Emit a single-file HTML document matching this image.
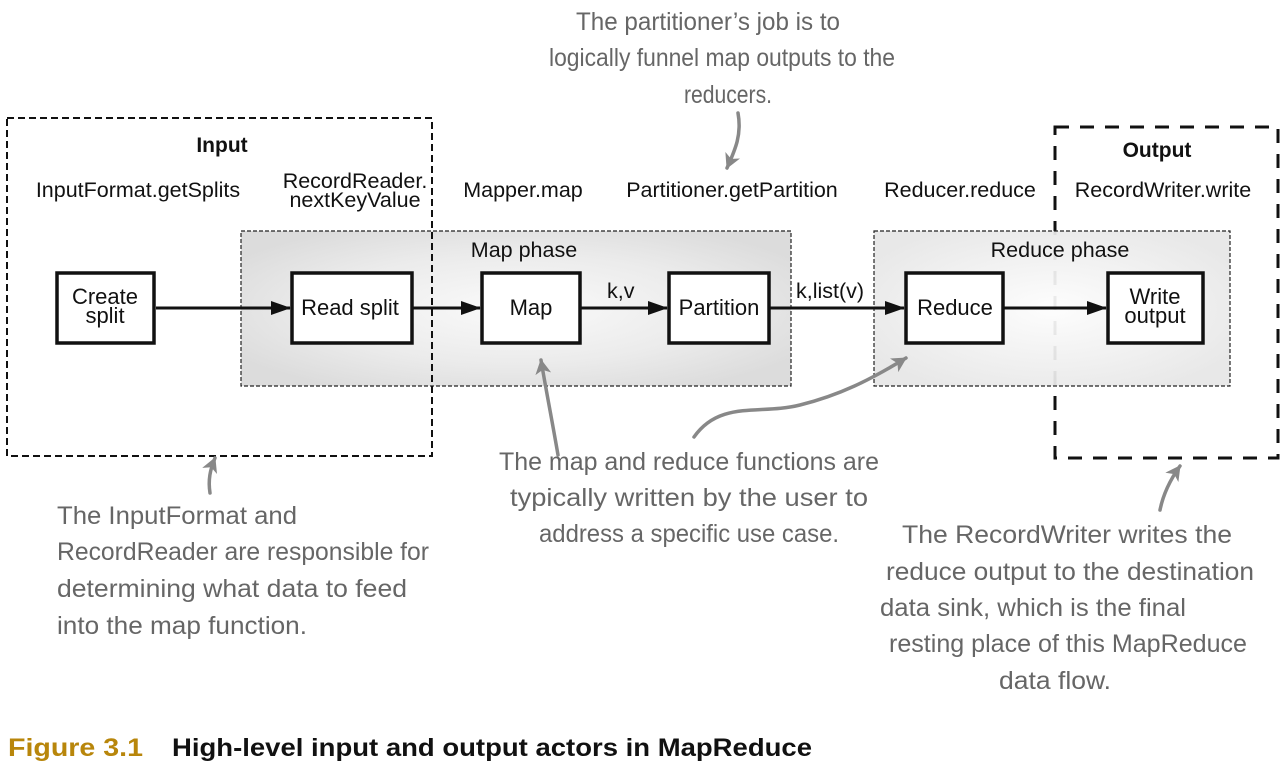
<!DOCTYPE html>
<html><head><meta charset="utf-8"><style>
html,body{margin:0;padding:0;background:#fff;width:1284px;height:784px;overflow:hidden}
svg{display:block}
.s{font-family:"Liberation Sans",Arial,sans-serif;font-size:21.5px;fill:#111}
.t{font-family:"Liberation Sans",Arial,sans-serif;font-size:22px;fill:#111}
.b{font-family:"Liberation Sans",Arial,sans-serif;font-size:21px;font-weight:bold;fill:#111}
.h{font-family:"Liberation Sans Narrow","Liberation Sans",sans-serif;font-size:25px;fill:#666}
.bx{fill:#fff;stroke:#111;stroke-width:3.5}
</style></head><body>
<svg width="1284" height="784" viewBox="0 0 1284 784" xmlns="http://www.w3.org/2000/svg">
<defs>
<radialGradient id="g1" cx="0.5" cy="0.5" r="0.6"><stop offset="0" stop-color="#fafafa"/><stop offset="0.6" stop-color="#ebebeb"/><stop offset="1" stop-color="#dcdcdc"/></radialGradient>
<radialGradient id="g2" cx="0.5" cy="0.5" r="0.6"><stop offset="0" stop-color="#fdfdfd"/><stop offset="1" stop-color="#e6e6e6"/></radialGradient>
<marker id="ab" markerWidth="20" markerHeight="14" refX="19" refY="7" orient="auto" markerUnits="userSpaceOnUse"><path d="M0,0 L20,7 L0,14 z" fill="#111"/></marker>
<marker id="ag" markerWidth="16" markerHeight="16" refX="14" refY="8" orient="auto" markerUnits="userSpaceOnUse"><path d="M0,0 L15,8 L0,16 L4,8 z" fill="#888"/></marker>
</defs>
<rect x="1055" y="127" width="223" height="331" fill="none" stroke="#111" stroke-width="3" stroke-dasharray="14,11"/>
<rect x="241" y="231" width="550" height="155" fill="url(#g1)" stroke="#222" stroke-width="1.2" stroke-dasharray="4,2"/>
<rect x="874" y="231" width="356" height="155" fill="url(#g2)" fill-opacity="0.93" stroke="#222" stroke-width="1.2" stroke-dasharray="4,2"/>
<rect x="7" y="118" width="425" height="338" fill="none" stroke="#111" stroke-width="2" stroke-dasharray="7,4"/>
<text class="b" x="222" y="152" text-anchor="middle">Input</text>
<text class="b" x="1157" y="157" text-anchor="middle">Output</text>
<text class="s" x="138" y="197" text-anchor="middle">InputFormat.getSplits</text>
<text class="s" x="355" y="188" text-anchor="middle">RecordReader.</text>
<text class="s" x="355" y="207" text-anchor="middle">nextKeyValue</text>
<text class="s" x="523" y="197" text-anchor="middle">Mapper.map</text>
<text class="s" x="732" y="197" text-anchor="middle">Partitioner.getPartition</text>
<text class="s" x="960" y="197" text-anchor="middle">Reducer.reduce</text>
<text class="s" x="1163" y="197" text-anchor="middle">RecordWriter.write</text>
<text class="s" x="524" y="257" text-anchor="middle">Map phase</text>
<text class="s" x="1060" y="257" text-anchor="middle">Reduce phase</text>
<g stroke="#111" stroke-width="3" fill="none">
<line x1="156" y1="308" x2="290" y2="308" marker-end="url(#ab)"/>
<line x1="412" y1="308" x2="480" y2="308" marker-end="url(#ab)"/>
<line x1="580" y1="308" x2="667" y2="308" marker-end="url(#ab)"/>
<line x1="769" y1="308" x2="904" y2="308" marker-end="url(#ab)"/>
<line x1="1003" y1="308" x2="1106" y2="308" marker-end="url(#ab)"/>
</g>
<rect class="bx" x="57" y="273" width="97" height="70"/>
<rect class="bx" x="292" y="273" width="120" height="70"/>
<rect class="bx" x="482" y="273" width="98" height="70"/>
<rect class="bx" x="669" y="273" width="100" height="70"/>
<rect class="bx" x="906" y="273" width="97" height="70"/>
<rect class="bx" x="1108" y="273" width="95" height="70"/>
<text class="t" x="105" y="304" text-anchor="middle">Create</text>
<text class="t" x="105" y="323" text-anchor="middle">split</text>
<text class="t" x="350" y="315" text-anchor="middle">Read split</text>
<text class="t" x="531" y="315" text-anchor="middle">Map</text>
<text class="t" x="719" y="315" text-anchor="middle">Partition</text>
<text class="t" x="955" y="315" text-anchor="middle">Reduce</text>
<text class="t" x="1155" y="304" text-anchor="middle">Write</text>
<text class="t" x="1155" y="323" text-anchor="middle">output</text>
<text class="s" x="607" y="298">k,v</text>
<text class="s" x="796" y="298">k,list(v)</text>
<g stroke="#888" stroke-width="3.5" fill="none" stroke-linecap="round">
<path d="M738,113 C742,135 735,150 727,168" marker-end="url(#ag)"/>
<path d="M558,455 C552,420 546,390 541,360" marker-end="url(#ag)"/>
<path d="M694,437 C720,400 760,415 800,405 C840,395 870,380 906,358" marker-end="url(#ag)"/>
<path d="M210,493 C208,480 210,470 215,458" marker-end="url(#ag)"/>
<path d="M1160,510 C1163,495 1170,480 1180,466" marker-end="url(#ag)"/>
</g>
<text class="h" x="708" y="30" text-anchor="middle" textLength="264" lengthAdjust="spacingAndGlyphs">The partitioner’s job is to</text>
<text class="h" x="722" y="66" text-anchor="middle" textLength="346" lengthAdjust="spacingAndGlyphs">logically funnel map outputs to the</text>
<text class="h" x="728" y="103" text-anchor="middle" textLength="88" lengthAdjust="spacingAndGlyphs">reducers.</text>
<text class="h" x="689" y="470" text-anchor="middle" textLength="380" lengthAdjust="spacingAndGlyphs">The map and reduce functions are</text>
<text class="h" x="689" y="506" text-anchor="middle" textLength="358" lengthAdjust="spacingAndGlyphs">typically written by the user to</text>
<text class="h" x="689" y="542" text-anchor="middle" textLength="300" lengthAdjust="spacingAndGlyphs">address a specific use case.</text>
<text class="h" x="57" y="524" textLength="240" lengthAdjust="spacingAndGlyphs">The InputFormat and</text>
<text class="h" x="57" y="560" textLength="372" lengthAdjust="spacingAndGlyphs">RecordReader are responsible for</text>
<text class="h" x="57" y="597" textLength="350" lengthAdjust="spacingAndGlyphs">determining what data to feed</text>
<text class="h" x="57" y="634" textLength="250" lengthAdjust="spacingAndGlyphs">into the map function.</text>
<text class="h" x="1067" y="543" text-anchor="middle" textLength="330" lengthAdjust="spacingAndGlyphs">The RecordWriter writes the</text>
<text class="h" x="1070" y="580" text-anchor="middle" textLength="368" lengthAdjust="spacingAndGlyphs">reduce output to the destination</text>
<text class="h" x="880" y="616" textLength="306" lengthAdjust="spacingAndGlyphs">data sink, which is the final</text>
<text class="h" x="1068" y="652" text-anchor="middle" textLength="358" lengthAdjust="spacingAndGlyphs">resting place of this MapReduce</text>
<text class="h" x="1055" y="689" text-anchor="middle" textLength="112" lengthAdjust="spacingAndGlyphs">data flow.</text>
<text x="8" y="756" font-family="Liberation Sans,Arial,sans-serif" font-weight="bold" font-size="25" fill="#b8860b" textLength="135" lengthAdjust="spacingAndGlyphs">Figure 3.1</text>
<text x="172" y="756" font-family="Liberation Sans,Arial,sans-serif" font-weight="bold" font-size="25" fill="#111" textLength="640" lengthAdjust="spacingAndGlyphs">High-level input and output actors in MapReduce</text>
</svg>
</body></html>
